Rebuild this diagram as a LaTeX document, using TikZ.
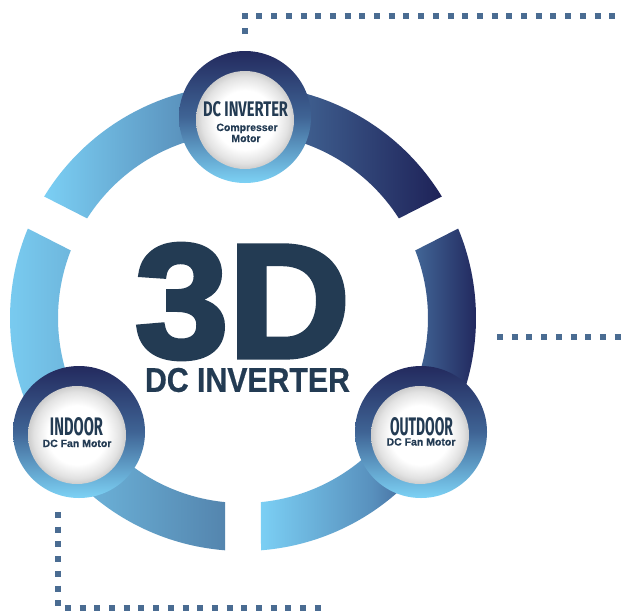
\documentclass[tikz,border=0pt]{standalone}
\usepackage{fontspec}
\setmainfont{Liberation Sans}
\newfontfamily\heavyfont{Liberation Sans Bold}[FakeBold=3]
\newfontfamily\boldsans{Liberation Sans Bold}[FakeBold=0.6]
\newfontfamily\condfont{Fira Sans}

\definecolor{lightb}{HTML}{7BCFF4}
\definecolor{navy}{HTML}{1E2258}
\definecolor{midC}{HTML}{5485AE}
\definecolor{midB}{HTML}{5890BD}
\definecolor{badgetop}{HTML}{232A5E}
\definecolor{badgemid}{HTML}{3F6495}
\definecolor{badgebot}{HTML}{7DD2F5}
\definecolor{textdark}{HTML}{233B53}
\definecolor{dotcol}{HTML}{4A6C92}

% white disc with a soft grey rim
\pgfdeclareradialshading{rimshade}{\pgfpoint{0bp}{0bp}}{%
  color(0bp)=(white); color(15bp)=(white); color(22bp)=(rgb,255:red,226;green,226;blue,226);
  color(25bp)=(rgb,255:red,205;green,205;blue,205); color(50bp)=(rgb,255:red,205;green,205;blue,205)}

\tikzset{
  badge/.style={circle, inner sep=0pt, minimum size=132pt,
    top color=badgetop, bottom color=badgebot, middle color=badgemid},
  badgecore/.style={circle, inner sep=0pt, minimum size=98pt, shade, shading=rimshade},
  condtitle/.style={inner sep=0pt, text=textdark, font=\condfont\bfseries},
  subtxt/.style={inner sep=0pt, anchor=base, text=textdark,
    font=\boldsans\fontsize{10.5}{12}\selectfont},
  dotline/.style={draw=dotcol, line width=6pt, dash pattern=on 6pt off 8.7pt}
}

\begin{document}
\begin{tikzpicture}[x=1pt, y=-1pt]
\useasboundingbox (0,0) rectangle (623,613);
\fill[white] (0,0) rectangle (623,613);

% three ring segments, each with its own horizontal gradient
\begin{scope}[shift={(243,318)}]
  \shade[left color=lightb, right color=navy]
    (-31.43:233) arc[start angle=-31.43, end angle=-148.57, radius=233]
    -- (-147.42:185) arc[start angle=-147.42, end angle=-32.58, radius=185] -- cycle;
  \shade[left color=lightb, right color=midC]
    (-157.43:233) arc[start angle=-157.43, end angle=-265.57, radius=233]
    -- (-264.42:185) arc[start angle=-264.42, end angle=-158.58, radius=185] -- cycle;
  \shade[left color=lightb, right color=navy, middle color=midB]
    (85.57:233) arc[start angle=85.57, end angle=-22.57, radius=233]
    -- (-21.42:185) arc[start angle=-21.42, end angle=84.42, radius=185] -- cycle;
\end{scope}

% dotted leader lines
\coordinate (l1a) at (245,34);
\coordinate (l1b) at (245,16);
\coordinate (l1c) at (623,16);
\coordinate (l2a) at (497,337);
\coordinate (l2b) at (623,337);
\coordinate (l3a) at (58,512);
\coordinate (l3b) at (58,608);
\coordinate (l3c) at (323,608);
\draw[dotline] (l1a) -- (l1b) -- (l1c);
\draw[dotline] (l2a) -- (l2b);
\draw[dotline] (l3a) -- (l3b) -- (l3c);

% badges
\node[badge] (topbadge) at (245,117) {};
\node[badgecore] (topcore) at (245,120) {};
\node[badge] (leftbadge) at (79,432) {};
\node[badgecore] (leftcore) at (77,435) {};
\node[badge] (rightbadge) at (421,432) {};
\node[badgecore] (rightcore) at (420,435) {};

% badge labels
\node[condtitle] (topttl) at (245.5,109.5) {\resizebox{85pt}{15pt}{DC INVERTER}};
\node[subtxt] (topsub1) at (247,131) {Compresser};
\node[subtxt] (topsub2) at (246,142) {Motor};

\node[condtitle] (leftttl) at (76.5,427) {\resizebox{53pt}{18pt}{INDOOR}};
\node[subtxt] (leftsub) at (77,447) {DC Fan Motor};

\node[condtitle] (rightttl) at (421.5,427) {\resizebox{63pt}{18pt}{OUTDOOR}};
\node[subtxt] (rightsub) at (421,445.5) {DC Fan Motor};

% central title
\node[inner sep=0pt, text=textdark, font=\heavyfont] (bigtitle) at (242.5,301.5)
  {\resizebox{215pt}{113pt}{3D}};
\node[inner sep=0pt, text=textdark, font=\boldsans] (subtitle) at (247.5,380)
  {\resizebox{205pt}{24pt}{DC INVERTER}};
\end{tikzpicture}
\end{document}
